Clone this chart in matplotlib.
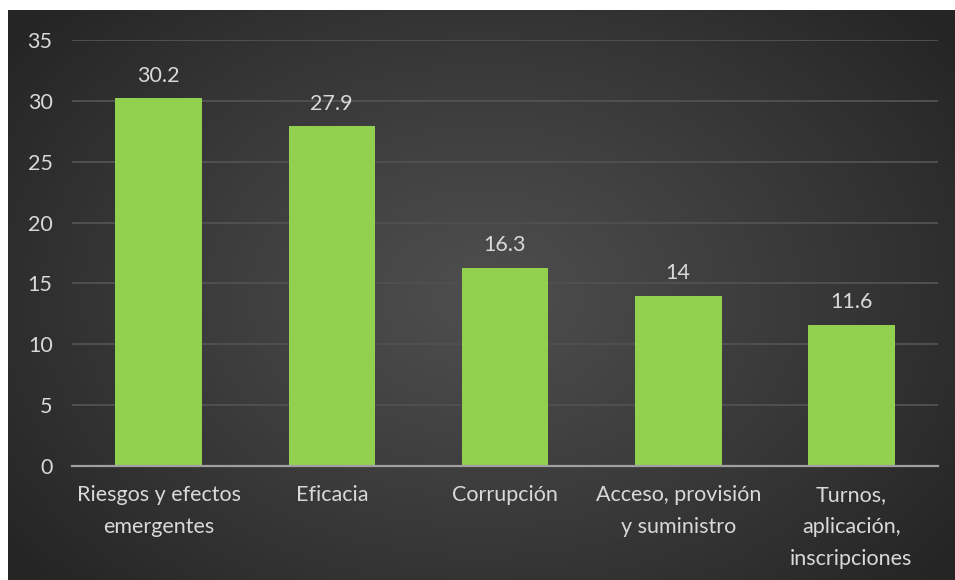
import numpy as np
import matplotlib
matplotlib.use("Agg")
import matplotlib.pyplot as plt

categories = ["Riesgos y efectos\nemergentes", "Eficacia", "Corrupción",
              "Acceso, provisión\ny suministro", "Turnos,\naplicación,\ninscripciones"]
values = [30.2, 27.9, 16.3, 14, 11.6]
value_labels = ["30.2", "27.9", "16.3", "14", "11.6"]
yticks = [0, 5, 10, 15, 20, 25, 30, 35]

W, H = 955, 580
fig = plt.figure(figsize=(W / 100, H / 100), dpi=100)
fig.patch.set_facecolor("white")

# radial gradient background panel
bg = fig.add_axes([8 / W, 0, 1 - 8 / W, 1 - 10 / H])
ny, nx = 300, 500
yy, xx = np.mgrid[0:ny, 0:nx]
cx, cy = nx * 0.5, ny * 0.5
r = np.sqrt(((xx - cx) / (nx * 0.62)) ** 2 + ((yy - cy) / (ny * 0.75)) ** 2)
r = np.clip(r, 0, 1)
inner, outer = 0x4e, 0x25
g = (inner + (outer - inner) * r ** 1.1) / 255.0
img = np.dstack([g, g, g])
bg.imshow(img, aspect="auto", extent=[0, 1, 0, 1])
bg.axis("off")

ax = fig.add_axes([72 / W, (H - 466) / H, (938 - 72) / W, (466 - 40) / H])
ax.patch.set_alpha(0)
x = np.arange(len(categories))
bars = ax.bar(x, values, width=0.5, color="#92d050", zorder=3)
ax.set_xlim(-0.5, len(categories) - 0.5)
ax.set_ylim(0, 35)
ax.set_yticks(yticks)
ax.set_yticklabels([str(t) for t in yticks])
ax.set_xticks(x)
ax.set_xticklabels(categories, linespacing=1.75)
for s in ["top", "right", "left"]:
    ax.spines[s].set_visible(False)
ax.spines["bottom"].set_color("#a0a0a0")
ax.spines["bottom"].set_linewidth(1.6)
ax.spines["bottom"].set_zorder(4)
ax.grid(axis="y", color="#505050", linewidth=1.4, zorder=0)
ax.tick_params(axis="both", length=0, colors="#d9d9d9", labelsize=15.5)
ax.tick_params(axis="y", pad=14)
ax.tick_params(axis="x", pad=14)
for lbl in ax.get_xticklabels() + ax.get_yticklabels():
    lbl.set_fontfamily("Lato")
    lbl.set_color("#d9d9d9")
for xi, v, t in zip(x, values, value_labels):
    ax.annotate(t, (xi, v), xytext=(0, 9), textcoords="offset points",
                ha="center", va="bottom", fontsize=15.5, color="#d9d9d9",
                fontfamily="Lato")

fig.savefig("out.png", dpi=100)
